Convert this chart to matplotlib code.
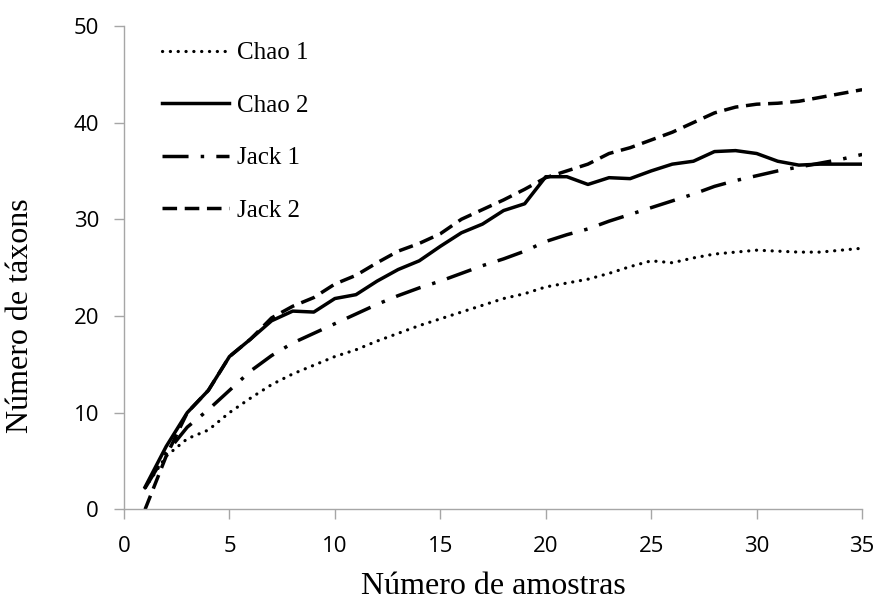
import matplotlib
matplotlib.use("Agg")
import matplotlib.pyplot as plt

# numero de amostras
amostras = list(range(1, 36))

chao1 = [2.2, 5.5, 7.3, 8.2, 10.0, 11.5, 12.9, 14.0, 14.9, 15.8,
         16.5, 17.4, 18.2, 19.0, 19.7, 20.4, 21.1, 21.8, 22.3, 23.0,
         23.4, 23.8, 24.4, 25.1, 25.7, 25.5, 26.0, 26.4, 26.6, 26.8,
         26.7, 26.6, 26.6, 26.8, 27.0]

chao2 = [2.3, 6.5, 10.0, 12.3, 15.8, 17.6, 19.5, 20.5, 20.4, 21.8,
         22.2, 23.6, 24.8, 25.7, 27.2, 28.6, 29.5, 30.9, 31.6, 34.4,
         34.4, 33.6, 34.3, 34.2, 35.0, 35.7, 36.0, 37.0, 37.1, 36.8,
         36.0, 35.6, 35.7, 35.7, 35.7]

jack1 = [2.2, 5.8, 8.5, 10.3, 12.3, 14.3, 15.9, 17.2, 18.2, 19.2,
         20.2, 21.2, 22.1, 22.9, 23.6, 24.4, 25.2, 25.9, 26.7, 27.7,
         28.4, 29.0, 29.8, 30.5, 31.2, 31.9, 32.6, 33.4, 34.0, 34.5,
         35.0, 35.4, 35.8, 36.2, 36.7]

jack2 = [0.0, 5.5, 10.0, 12.3, 15.8, 17.6, 19.8, 21.0, 21.9, 23.3,
         24.2, 25.5, 26.7, 27.5, 28.5, 30.0, 31.0, 32.0, 33.1, 34.3,
         35.0, 35.7, 36.8, 37.4, 38.2, 39.0, 40.0, 41.0, 41.6, 41.9,
         42.0, 42.2, 42.6, 43.0, 43.4]

serif = ["Liberation Serif", "DejaVu Serif"]
sans = ["Open Sans", "DejaVu Sans"]

fig = plt.figure(figsize=(8.77, 6.02), dpi=100)
ax = fig.add_axes([0.1414, 0.154, 0.8416, 0.803])

ax.plot(amostras, chao1, color="black", lw=2.3,
        linestyle=(0, (0.05, 2.4)), dash_capstyle="round", label="Chao 1")
ax.plot(amostras, chao2, color="black", lw=2.5, linestyle="-", label="Chao 2")
ax.plot(amostras, jack1, color="black", lw=2.5,
        linestyle=(0, (7.5, 3.5, 1, 3.5)), label="Jack 1")
ax.plot(amostras, jack2, color="black", lw=2.5,
        linestyle=(0, (4.2, 2.2)), label="Jack 2")

ax.set_xlim(0, 35)
ax.set_ylim(0, 50)
ax.set_xticks(range(0, 36, 5))
ax.set_yticks(range(0, 51, 10))

for side in ["top", "right"]:
    ax.spines[side].set_visible(False)
for side in ["left", "bottom"]:
    ax.spines[side].set_color("#a6a6a6")
    ax.spines[side].set_linewidth(1.0)
ax.tick_params(axis="both", direction="out", length=7, width=1.0,
               color="#a6a6a6", labelsize=16)
ax.tick_params(axis="x", pad=12)
ax.tick_params(axis="y", pad=11)
for lbl in ax.get_xticklabels() + ax.get_yticklabels():
    lbl.set_family(sans)

ax.set_xlabel("Número de amostras", family=serif, fontsize=23, labelpad=11)
ax.set_ylabel("Número de táxons", family=serif, fontsize=23)
ax.yaxis.set_label_coords(-0.12, 0.40)

leg = ax.legend(loc="upper left", bbox_to_anchor=(0.034, 0.993), frameon=False,
                prop={"family": serif, "size": 18}, handlelength=2.7,
                handletextpad=0.3, labelspacing=1.2, borderpad=0)

fig.savefig("out.png", dpi=100)
